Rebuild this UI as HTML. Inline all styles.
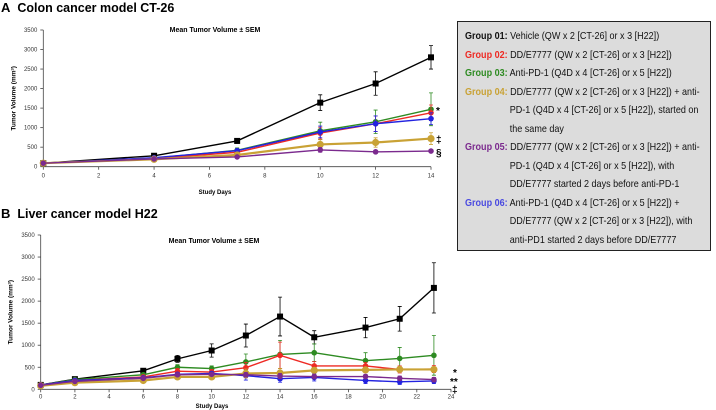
<!DOCTYPE html>
<html><head><meta charset="utf-8"><style>
body{margin:0;background:#fff;width:716px;height:410px;overflow:hidden;font-family:"Liberation Sans",sans-serif}
svg{position:absolute;left:0;top:0}
.ln{white-space:nowrap;transform:scaleX(0.86);transform-origin:left center;height:18.5px}
.ind{padding-left:52px}
</style></head><body>
<svg id="s" width="716" height="410" font-family="Liberation Sans, sans-serif"></svg>
<script>
const colors=['#000000','#ee2a24','#2e8b22','#c9a235','#7b2a8e','#2323e0'];
const daysA=[0,4,7,10,12,14];
const g1A=[90,280,660,1640,2130,2800];
const g2A=[90,210,370,860,1100,1380];
const g3A=[90,220,420,920,1150,1470];
const g4A=[90,190,300,570,620,720];
const g5A=[90,200,250,430,380,400];
const g6A=[90,230,410,890,1100,1230];
const e1A=[20,40,60,200,300,300];
const e2A=[10,30,50,150,200,200];
const e3A=[10,30,60,220,300,420];
const e4A=[10,20,40,120,120,150];
const e5A=[10,20,30,60,40,40];
const e6A=[10,30,50,150,200,150];
const daysB=[0,2,6,8,10,12,14,16,19,21,23];
const g1B=[100,230,420,690,880,1220,1650,1180,1400,1600,2300];
const g2B=[100,200,280,410,390,490,770,530,530,450,460];
const g3B=[100,220,330,500,470,620,790,830,650,700,770];
const g4B=[80,150,200,280,280,360,370,430,440,450,450];
const g5B=[90,180,250,330,340,330,300,290,290,250,220];
const g6B=[100,200,260,340,360,310,240,270,200,170,190];
const e1B=[20,30,50,80,150,260,440,150,230,280,570];
const e2B=[10,20,40,60,60,120,300,100,80,80,80];
const e3B=[10,30,40,60,60,180,320,200,180,250,450];
const e4B=[10,20,30,40,40,100,100,60,60,60,60];
const e5B=[10,20,30,40,40,50,60,50,50,50,50];
const e6B=[10,20,30,40,40,100,80,80,70,60,60];
const yTicks=[0,500,1000,1500,2000,2500,3000,3500];
const xTicksA=[0,2,4,6,8,10,12,14];
const xTicksB=[0,2,4,6,8,10,12,14,16,18,20,22,24];
const NS='http://www.w3.org/2000/svg';
const svg=document.getElementById('s');
function el(tag,attrs,text,parent){const e=document.createElementNS(NS,tag);for(const k in attrs)e.setAttribute(k,attrs[k]);if(text!==undefined)e.textContent=text;(parent||svg).appendChild(e);return e;}
function chart(cfg){
 const g=el('g',{});
 
 
 const X=d=>cfg.x0+(d-cfg.xmin)*(cfg.x1-cfg.x0)/(cfg.xmax-cfg.xmin);
 const Y=v=>cfg.y0-v*(cfg.y0-cfg.y1)/3500;
 const ax=el('path',{d:`M${cfg.x0},${cfg.y1}V${cfg.y0}H${X(cfg.xTicks[cfg.xTicks.length-1])}`,stroke:'#444',fill:'none','stroke-width':0.8},undefined,g);
 
 yTicks.forEach(t=>{el('line',{x1:cfg.x0-3,x2:cfg.x0,y1:Y(t),y2:Y(t),stroke:'#444','stroke-width':0.8},undefined,g);
  const tx=el('text',{x:cfg.x0-6,y:Y(t)+2,'font-size':6,'text-anchor':'end',fill:'#333'},t,g);
  });
 cfg.xTicks.forEach(t=>{el('line',{x1:X(t),x2:X(t),y1:cfg.y0,y2:cfg.y0+3,stroke:'#444','stroke-width':0.8},undefined,g);
  const tx=el('text',{x:X(t),y:cfg.y0+cfg.tickDy,'font-size':6,'text-anchor':'middle',fill:'#333'},t,g);
  });
 const order=[0,2,1,5,3,4];
 order.forEach(i=>{
  const vals=cfg.series[i],errs=cfg.errs[i],c=colors[i];
  const sg=el('g',{},undefined,g);
  
  cfg.days.forEach((d,j)=>{el('path',{d:`M${X(d)},${Y(vals[j]-errs[j])}V${Y(vals[j]+errs[j])}M${X(d)-2},${Y(vals[j]+errs[j])}h4M${X(d)-2},${Y(vals[j]-errs[j])}h4`,stroke:c,'stroke-width':0.8,fill:'none'},undefined,sg);});
  el('polyline',{points:cfg.days.map((d,j)=>X(d)+','+Y(vals[j])).join(' '),stroke:c,'stroke-width':i==3?2.2:1.4,fill:'none'},undefined,sg);
  cfg.days.forEach((d,j)=>{
   if(i==0)el('rect',{x:X(d)-3,y:Y(vals[j])-3,width:6,height:6,fill:c},undefined,sg);
   else el('circle',{cx:X(d),cy:Y(vals[j]),r:i==3?3.6:2.8,fill:c},undefined,sg);
  });
 });
 const t=el('text',{x:cfg.tx,y:cfg.ty,'font-size':7,'font-weight':'bold','text-anchor':'middle'},'Mean Tumor Volume ± SEM',g);
 
 const xt=el('text',{x:cfg.xtx,y:cfg.xty,'font-size':6,'font-weight':'bold','text-anchor':'middle'},'Study Days',g);
 
 const yc=(cfg.y0+cfg.y1)/2;
 const yt=el('text',{x:cfg.x0-28,y:yc,'font-size':6.5,'font-weight':'bold','text-anchor':'middle',transform:`rotate(-90 ${cfg.x0-28} ${yc})`},'',g);
 yt.innerHTML='Tumor Volume (mm<tspan font-size="4" dy="-2">3</tspan><tspan dy="2">)</tspan>';
 
 return {X,Y,g};
}
const A=chart({name:'chart-colon-ct26',x0:43.3,x1:431,xmin:0,xmax:14,y0:166.7,y1:30,days:daysA,series:[g1A,g2A,g3A,g4A,g5A,g6A],errs:[e1A,e2A,e3A,e4A,e5A,e6A],xTicks:xTicksA,tickDy:11,tx:215,ty:32,xtx:215,xty:194});
const B=chart({name:'chart-liver-h22',x0:40.7,x1:451,xmin:0,xmax:24,y0:389.3,y1:235,days:daysB,series:[g1B,g2B,g3B,g4B,g5B,g6B],errs:[e1B,e2B,e3B,e4B,e5B,e6B],xTicks:xTicksB,tickDy:9,tx:214,ty:243,xtx:212,xty:408});
function ann(s,x,y,n){const t=el('text',{x,y,'font-size':10,'font-weight':'bold'},s);}
ann('*',436,114,'sig-star-a');ann('‡',436,143,'sig-dagger-a');ann('§',436,156,'sig-section-a');
ann('*',453,376,'sig-star-b');ann('**',450,385,'sig-stars-b');ann('‡',452,393,'sig-dagger-b');
</script>
<div style="position:absolute;left:1px;top:0;font-size:12.5px;font-weight:bold"><span style="font-size:13px">A</span>&nbsp; Colon cancer model CT-26</div>
<div style="position:absolute;left:1px;top:206px;font-size:12.5px;font-weight:bold"><span style="font-size:13px">B</span>&nbsp; Liver cancer model H22</div>
<div style="position:absolute;left:457px;top:21px;width:254px;height:230px;background:#dcdcdc;border:1.3px solid #222;font-size:10.5px;line-height:18.5px;color:#111;padding-top:5px;padding-left:7px;box-sizing:border-box">
<div class="ln"><b>Group 01:</b> Vehicle (QW x 2 [CT-26] or x 3 [H22])</div>
<div class="ln"><b style="color:#ee2a24">Group 02:</b> DD/E7777 (QW x 2 [CT-26] or x 3 [H22])</div>
<div class="ln"><b style="color:#2e8b22">Group 03:</b> Anti-PD-1 (Q4D x 4 [CT-26] or x 5 [H22])</div>
<div>
<div class="ln"><b style="color:#c9a235">Group 04:</b> DD/E7777 (QW x 2 [CT-26] or x 3 [H22]) + anti-</div>
<div class="ln ind">PD-1 (Q4D x 4 [CT-26] or x 5 [H22]), started on</div>
<div class="ln ind">the same day</div></div>
<div>
<div class="ln"><b style="color:#7b2a8e">Group 05:</b> DD/E7777 (QW x 2 [CT-26] or x 3 [H22]) + anti-</div>
<div class="ln ind">PD-1 (Q4D x 4 [CT-26] or x 5 [H22]), with</div>
<div class="ln ind">DD/E7777 started 2 days before anti-PD-1</div></div>
<div>
<div class="ln"><b style="color:#4a4ae0">Group 06:</b> Anti-PD-1 (Q4D x 4 [CT-26] or x 5 [H22]) +</div>
<div class="ln ind">DD/E7777 (QW x 2 [CT-26] or x 3 [H22]), with</div>
<div class="ln ind">anti-PD1 started 2 days before DD/E7777</div></div>
</div>
</body></html>
